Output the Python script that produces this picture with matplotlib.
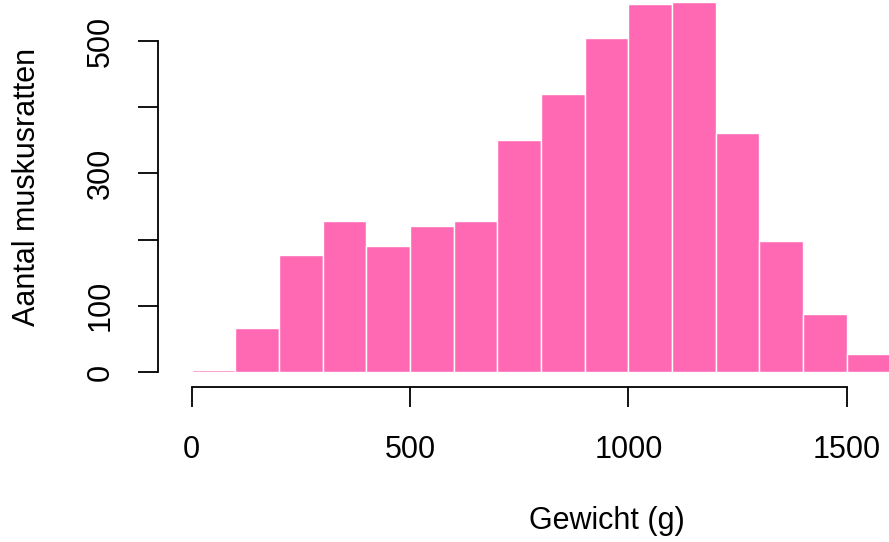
import matplotlib.pyplot as plt

# histogram counts per 100 g bin
bin_edges = [0, 100, 200, 300, 400, 500, 600, 700, 800, 900, 1000, 1100, 1200, 1300, 1400, 1500, 1600]
counts = [3, 66, 177, 228, 190, 220, 228, 351, 420, 504, 556, 559, 361, 198, 88, 27]
xticks = [0, 500, 1000, 1500]
yticks = [0, 100, 200, 300, 400, 500]
ytick_labels = ['0', '100', '', '300', '', '500']

plt.rcParams['font.family'] = ['Liberation Sans', 'DejaVu Sans']

W, H = 889, 542
fig = plt.figure(figsize=(W / 100, H / 100), dpi=100)
ax = fig.add_axes([158 / W, (H - 387) / H, 1 - 158 / W, 387 / H])

ax.bar(bin_edges[:-1], counts, width=100, align='edge',
       color='#FF69B4', edgecolor='white', linewidth=1.0)

# axis limits so that 0 and 1500 / 0 and 500 fall where they do in the picture
xs = (846.7 - 191.7) / 1500
ax.set_xlim((158 - 191.7) / xs, (889 - 191.7) / xs)
ys = (372 - 41) / 500
ax.set_ylim(-(387 - 372) / ys, 372 / ys)

for s in ['top', 'right']:
    ax.spines[s].set_visible(False)
ax.spines['left'].set_bounds(0, 500)
ax.spines['bottom'].set_bounds(0, 1500)
ax.spines['left'].set_linewidth(1.3)
ax.spines['bottom'].set_linewidth(1.3)

ax.set_xticks(xticks)
ax.set_xticklabels([str(v) for v in xticks])
ax.set_yticks(yticks)
ax.set_yticklabels(ytick_labels, rotation=90, va='center')
ax.tick_params(axis='both', length=14.5, width=1.3, labelsize=22)
ax.tick_params(axis='x', pad=20)
ax.tick_params(axis='y', pad=16)

fig.text(607 / W, 1 - 521 / H, 'Gewicht (g)', ha='center', va='center', fontsize=22)
fig.text(27 / W, 1 - 187 / H, 'Aantal muskusratten', ha='center', va='center',
         rotation=90, fontsize=22)

fig.savefig('out.png', dpi=100)
